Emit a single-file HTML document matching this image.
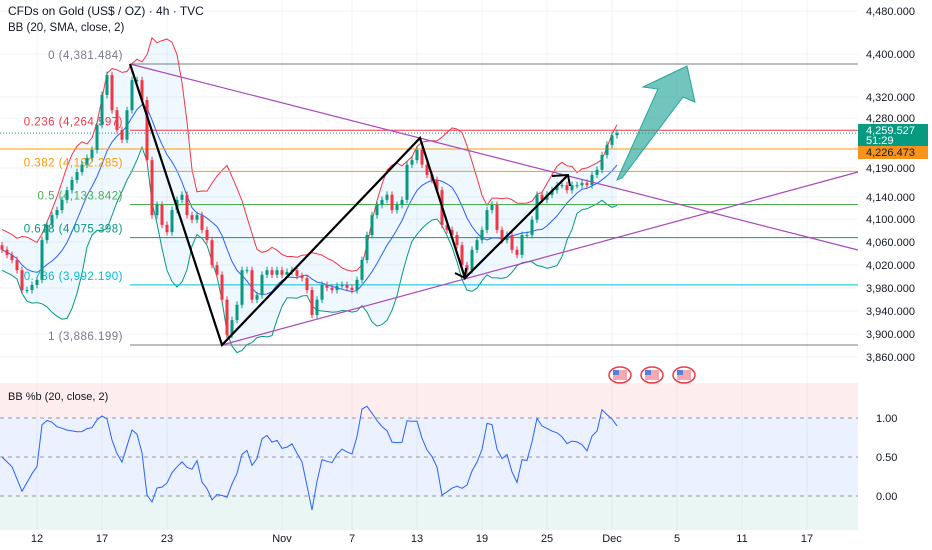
<!DOCTYPE html>
<html><head><meta charset="utf-8">
<style>
html,body{margin:0;padding:0;background:#fff;}
svg{display:block;font-family:"Liberation Sans",sans-serif;}
</style></head>
<body>
<svg id="chart" width="932" height="550" viewBox="0 0 932 550">
<rect width="932" height="550" fill="#fff"/>
<g id="grid"></g>
<g id="pane2bg">
  <rect x="0" y="383" width="858" height="35" fill="#f23645" fill-opacity="0.09"/>
  <rect x="0" y="418" width="858" height="78" fill="#2962ff" fill-opacity="0.09"/>
  <rect x="0" y="496" width="858" height="34" fill="#089981" fill-opacity="0.09"/>
  <line x1="0" x2="858" y1="418" y2="418" stroke="#999" stroke-dasharray="4,4"/>
  <line x1="0" x2="858" y1="457" y2="457" stroke="#999" stroke-dasharray="4,4"/>
  <line x1="0" x2="858" y1="496" y2="496" stroke="#999" stroke-dasharray="4,4"/>
</g>
<g id="bb"></g>
<g id="fib"></g>
<g id="candles"></g>
<g id="draw">
  <line x1="130" y1="64" x2="858" y2="250" stroke="#ab47bc" stroke-width="1.2"/>
  <line x1="222" y1="345" x2="858" y2="172" stroke="#ab47bc" stroke-width="1.2"/>
  <polyline points="130,64 222,345 420,138 465,278 568,175" fill="none" stroke="#000" stroke-width="2.2"/>
  <polyline points="455,273 465,278 466,268" fill="none" stroke="#000" stroke-width="2"/>
  <polyline points="552,176 568,175 570,186" fill="none" stroke="#000" stroke-width="2"/>
  <polygon points="617,180 658,89 643,87 687,66 695,102 683,97 622,178" fill="#26a69a" fill-opacity="0.65" stroke="#26a69a" stroke-width="1"/>
</g>
<g id="pctb"></g>
<g id="flags"></g>
<g id="axis"></g>
<g id="xaxis"></g>
<text x="8" y="15" font-size="12" fill="#131722">CFDs on Gold (US$ / OZ) · 4h · TVC</text>
<text x="8" y="31" font-size="11.5" fill="#131722">BB (20, SMA, close, 2)</text>
<text x="8" y="400" font-size="11" fill="#131722">BB %b (20, close, 2)</text>
<rect x="858" y="124" width="70" height="22" fill="#089981"/>
<text x="866" y="134" font-size="11" fill="#fff">4,259.527</text>
<text x="866" y="144" font-size="11" fill="#fff">51:29</text>
<rect x="858" y="146" width="70" height="13" fill="#f7931a"/>
<text x="866" y="156" font-size="11" fill="#131722">4,226.473</text>
</svg>
<script>
const closes=[4054,4045,4036,4018,3983,3983,3992,4001,4071,4098,4115,4124,4142,4159,4177,4191,4204,4216,4230,4274,4327,4362,4300,4265,4248,4300,4353,4353,4318,4212,4115,4133,4098,4085,4124,4142,4151,4115,4107,4115,4089,4071,4027,4010,3966,3904,3930,3957,4018,4018,3966,3974,4010,4018,4010,4018,4010,4015,4018,4008,4004,3983,3939,3966,3992,3987,3983,3990,3992,3987,3983,4001,4036,4080,4115,4133,4142,4151,4124,4133,4142,4204,4212,4230,4204,4186,4177,4159,4098,4089,4080,4062,4027,4018,4054,4071,4089,4124,4133,4089,4071,4080,4054,4045,4080,4080,4107,4151,4142,4151,4159,4168,4168,4159,4168,4168,4172,4168,4186,4195,4221,4239,4256,4260];
const priceTicks=[4480,4400,4320,4280,4190,4140,4100,4060,4020,3980,3940,3900,3860];
const priceTickY=[11,54,97,118,168,197,219,242,265,288,311,334,357];
const dateLabels=["12","17","23","Nov","7","13","19","25","Dec","5","11","17"];
const dateIdx=[7,20,33,56,70,83,96,109,122,135,148,161];
const fibRatios=[0,0.236,0.382,0.5,0.618,0.786,1];
const fibPrices=[4381.484,4264.597,4192.285,4133.842,4075.398,3992.190,3886.199];
const pctbTicks=[1.00,0.50,0.00];
const NS="http://www.w3.org/2000/svg";
const yP=p=>64+(4381.484-p)*0.5673;
const xI=i=>2+i*5;
const yB=v=>496-v*78;
function mk(tag,attrs,parent){const e=document.createElementNS(NS,tag);for(const k in attrs)e.setAttribute(k,attrs[k]);parent.appendChild(e);return e;}
const grid=document.getElementById('grid');
priceTickY.forEach(y=>{const l=mk('line',{x1:0,x2:858,y1:y,y2:y,stroke:'#f0f3fa'},grid);

});
dateIdx.forEach(i=>{const l=mk('line',{x1:xI(i),x2:xI(i),y1:0,y2:530,stroke:'#f0f3fa'},grid);

});
// axes
const ax=document.getElementById('axis');
priceTicks.forEach((p,k)=>{const t=mk('text',{x:866,y:priceTickY[k]+4,'font-size':11,fill:'#131722'},ax);t.textContent=p.toLocaleString('en-US',{minimumFractionDigits:3});

});
pctbTicks.forEach(v=>{const t=mk('text',{x:876,y:yB(v)+4,'font-size':11,fill:'#131722'},ax);t.textContent=v.toFixed(2);

});
const xa=document.getElementById('xaxis');
dateLabels.forEach((d,k)=>{const t=mk('text',{x:xI(dateIdx[k]),y:542,'font-size':11,fill:'#131722','text-anchor':'middle'},xa);t.textContent=d;

});
// fib
const fib=document.getElementById('fib');
const fibCols=['#787b86','#f23645','#ff9800','#4caf50','#089981','#00bcd4','#787b86'];
fibPrices.forEach((p,k)=>{const y=yP(p);
const l=mk('line',{x1:130,x2:858,y1:y,y2:y,stroke:fibCols[k],'stroke-width':1},fib);


const t=mk('text',{x:123,y:y-5,'font-size':11.5,fill:fibCols[k],'text-anchor':'end','letter-spacing':'0.5'},fib);
t.textContent=fibRatios[k]+' ('+p.toLocaleString('en-US',{minimumFractionDigits:3})+')';

});
const ol=mk('line',{x1:0,x2:858,y1:149,y2:149,stroke:'#ff9800','stroke-width':1},fib);


const dl=mk('line',{x1:0,x2:858,y1:yP(4259.527),y2:yP(4259.527),stroke:'#089981','stroke-dasharray':'1,2'},fib);


// BB
const N=10,up=[],lo=[],mid=[],pb=[];
closes.forEach((c,i)=>{const w=closes.slice(Math.max(0,i-N+1),i+1);const m=w.reduce((a,b)=>a+b,0)/w.length;
let sd=Math.sqrt(w.reduce((a,b)=>a+(b-m)*(b-m),0)/w.length);sd=Math.max(sd,18);
mid.push(m);up.push(m+2*sd);lo.push(m-2*sd);pb.push((c-(m-2*sd))/(4*sd));});
const bb=document.getElementById('bb');
const pts=a=>a.map((v,i)=>xI(i)+','+yP(v).toFixed(1)).join(' ');
const fill=mk('polygon',{points:pts(up)+' '+lo.map((v,i)=>[xI(i),yP(v).toFixed(1)]).reverse().map(p=>p.join(',')).join(' '),fill:'#2196f3','fill-opacity':0.07},bb);


[[up,'#f23645','bb-upper'],[mid,'#2962ff','bb-basis'],[lo,'#089981','bb-lower']].forEach(([a,c,n])=>{
const l=mk('polyline',{points:pts(a),fill:'none',stroke:c,'stroke-width':1},bb);

});
// candles
const cg=document.getElementById('candles');
closes.forEach((c,i)=>{const o=i?closes[i-1]:c+8;const hi=Math.max(o,c)+6,lw=Math.min(o,c)-6;
const col=c>=o?'#089981':'#f23645';const x=xI(i);
const w=mk('line',{x1:x,x2:x,y1:yP(hi),y2:yP(lw),stroke:col,'stroke-width':1},cg);


const b=mk('rect',{x:x-1.5,y:yP(Math.max(o,c)),width:3,height:Math.max(1,Math.abs(yP(o)-yP(c))),fill:col},cg);

});
// pctb
const pg=document.getElementById('pctb');
const pl=mk('polyline',{points:pb.map((v,i)=>xI(i)+','+yB(v).toFixed(1)).join(' '),fill:'none',stroke:'#2962ff','stroke-width':1},pg);


// flags
const fg=document.getElementById('flags');
[620,652,684].forEach(x=>{const g=mk('g',{},fg);


mk('ellipse',{cx:x,cy:375,rx:11,ry:8,fill:'#fff',stroke:'#f23645','stroke-width':1.5},g);
mk('rect',{x:x-7,y:370,width:14,height:10,fill:'#f7a8ae'},g);
mk('rect',{x:x-7,y:370,width:6,height:5,fill:'#5b7fd6'},g);});
</script>
</body></html>
